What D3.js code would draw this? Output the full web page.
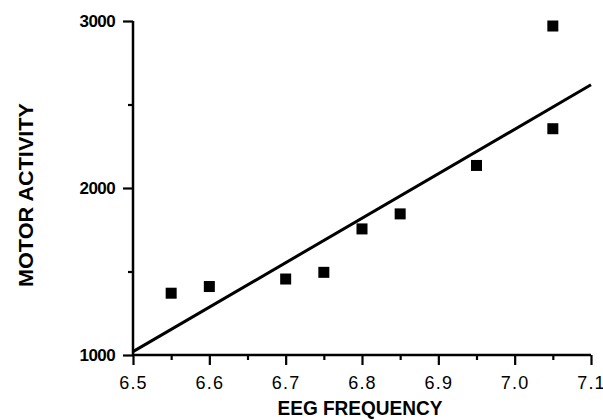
<!DOCTYPE html>
<html>
<head>
<meta charset="utf-8">
<script src="https://cdn.jsdelivr.net/npm/d3@7"></script>
<style>
  html, body { margin: 0; padding: 0; background: #fff; }
  svg { display: block; }
  text { font-family: "Liberation Sans", Arial, Helvetica, sans-serif; fill: #000; }
</style>
</head>
<body>
<svg id="chart" width="603" height="420"></svg>
<script>
// EEG frequency vs. motor activity
const eegFreq       = [6.55, 6.60, 6.70, 6.75, 6.80, 6.85, 6.95, 7.05, 7.05];
const motorActivity = [1370, 1410, 1455, 1495, 1755, 1845, 2135, 2355, 2970];

// fitted regression line, end points
const fitFreq     = [6.5, 7.1];
const fitActivity = [1020, 2618];

const xMajorTicks = [6.5, 6.6, 6.7, 6.8, 6.9, 7.0, 7.1];
const xMinorTicks = [6.55, 6.65, 6.75, 6.85, 6.95, 7.05];
const yMajorTicks = [1000, 2000, 3000];
const yMinorTicks = [1500, 2500];

const svg = d3.select("#chart");
const x = d3.scaleLinear().domain([6.5, 7.1]).range([133, 591]);
const y = d3.scaleLinear().domain([1000, 3000]).range([355, 21]);

// x axis
const xAxis = svg.append("g").attr("transform", `translate(0,${y(1000)})`);
xAxis.call(d3.axisBottom(x).tickValues(xMinorTicks).tickSize(5).tickFormat(""));
xAxis.append("g").call(d3.axisBottom(x).tickValues(xMajorTicks).tickSize(10)
  .tickPadding(11).tickFormat(d3.format(".1f")));
xAxis.selectAll(".domain").remove();
xAxis.append("line").attr("x1", x(6.5)).attr("x2", x(7.1))
  .attr("stroke", "#000").attr("stroke-width", 2.5);

// y axis
const yAxis = svg.append("g").attr("transform", `translate(${x(6.5)},0)`);
yAxis.call(d3.axisLeft(y).tickValues(yMinorTicks).tickSize(5).tickFormat(""));
yAxis.append("g").call(d3.axisLeft(y).tickValues(yMajorTicks).tickSize(10)
  .tickPadding(8).tickFormat(d3.format("d")));
yAxis.selectAll(".domain").remove();
yAxis.append("line").attr("y1", y(1000)).attr("y2", y(3000))
  .attr("stroke", "#000").attr("stroke-width", 2.5);

svg.selectAll(".tick line").attr("stroke", "#000").attr("stroke-width", 2.2);
svg.selectAll("g[font-size]").attr("font-size", null).attr("font-family", null);
xAxis.selectAll(".tick text")
  .style("font-size", "18px").attr("letter-spacing", 1.2);
yAxis.selectAll(".tick text")
  .style("font-size", "17px").style("font-weight", "bold").attr("letter-spacing", -0.6);

// regression line
svg.append("path")
  .datum(fitFreq.map((f, i) => [f, fitActivity[i]]))
  .attr("fill", "none").attr("stroke", "#000").attr("stroke-width", 3)
  .attr("d", d3.line().x(d => x(d[0])).y(d => y(d[1])));

// data points
const s = 11;
svg.append("g").selectAll("rect")
  .data(eegFreq.map((f, i) => [f, motorActivity[i]]))
  .join("rect")
  .attr("x", d => x(d[0]) - s / 2)
  .attr("y", d => y(d[1]) - s / 2)
  .attr("width", s).attr("height", s)
  .attr("fill", "#000");

// axis titles
svg.append("text")
  .attr("x", 360).attr("y", 415)
  .attr("text-anchor", "middle")
  .style("font-size", "20px").style("font-weight", "bold")
  .attr("textLength", 165).attr("lengthAdjust", "spacingAndGlyphs")
  .text("EEG FREQUENCY");

svg.append("text")
  .attr("transform", "translate(33,195) rotate(-90)")
  .attr("text-anchor", "middle")
  .style("font-size", "21px").style("font-weight", "bold")
  .attr("textLength", 184).attr("lengthAdjust", "spacingAndGlyphs")
  .text("MOTOR ACTIVITY");
</script>
</body>
</html>
